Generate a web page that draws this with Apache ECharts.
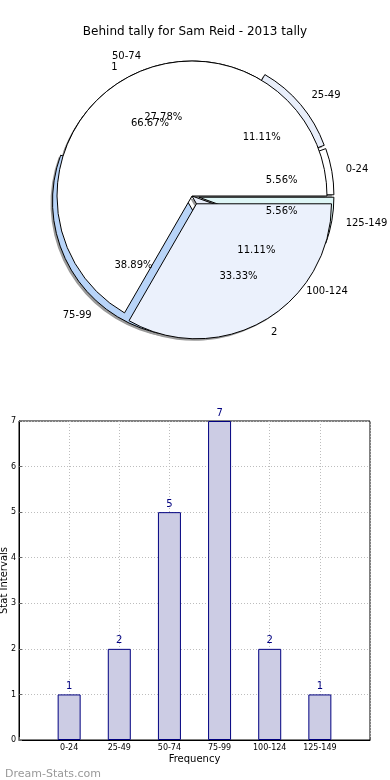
<!DOCTYPE html>
<html>
<head>
<meta charset="utf-8">
<script src="https://cdn.jsdelivr.net/npm/echarts@6/dist/echarts.min.js"></script>
<style>
html,body{margin:0;padding:0;background:#fff;}
#chart{width:390px;height:780px;}
</style>
</head>
<body>
<div id="chart"></div>
<script>
// ---- data ----
const chartTitle = 'Behind tally for Sam Reid - 2013 tally';
const categories = ['0-24', '25-49', '50-74', '75-99', '100-124', '125-149'];
const counts = [1, 2, 5, 7, 2, 1];
const splitNames = ['1', '2'];
const splitValues = [2, 1];
const yAxisName = 'Stat Intervals';
const xAxisName = 'Frequency';
const watermark = 'Dream-Stats.com';

// ---- styling ----
const FONT = 'DejaVu Sans';
const CX = 192, CY = 196, R = 135;
const colorsA = ['#ffffff', '#e8eefa', '#ffffff', '#b8d4f8', '#e8eefa', '#def6f6'];
const colorsB = ['#ffffff', '#ebf1fc'];
const explodeA = [true, true, false, true, false, true];
const explodeB = [false, true];
const offA = 7, offB = 9;

const totalA = counts.reduce((a, b) => a + b, 0);
const totalB = splitValues.reduce((a, b) => a + b, 0);

function pieData(names, values, colors, explode) {
  return names.map((n, i) => ({
    name: n, value: values[i], selected: explode[i],
    itemStyle: { color: colors[i] }
  }));
}
function plainData(names, values, explode) {
  return names.map((n, i) => ({ name: n, value: values[i], selected: explode[i] }));
}
const baseLabel = { fontFamily: FONT, fontSize: 10, color: '#000' };

function mainPie(names, values, colors, explode, off, z) {
  return {
    type: 'pie', z: z, center: [CX, CY], radius: R,
    startAngle: 0, clockwise: false, selectedMode: 'multiple', selectedOffset: off,
    avoidLabelOverlap: false, silent: true,
    labelLayout: { hideOverlap: false },
    data: pieData(names, values, colors, explode),
    itemStyle: { borderColor: '#000', borderWidth: 1 },
    label: Object.assign({ show: true, position: 'outside', formatter: '{b}', distanceToLabelLine: 0, overflow: 'none' }, baseLabel),
    labelLine: { show: false, length: 14, length2: 0 },
    emphasis: { disabled: true }
  };
}
function shadowPie(names, values, explode, off) {
  return {
    type: 'pie', z: 1, center: [CX - 2, CY + 2], radius: R,
    startAngle: 0, clockwise: false, selectedMode: 'multiple', selectedOffset: off,
    silent: true, data: plainData(names, values, explode),
    itemStyle: { color: '#9a9a9a', borderWidth: 0 },
    label: { show: false }, labelLine: { show: false },
    emphasis: { disabled: true }
  };
}
function pctPie(names, values, explode, off, total) {
  return {
    type: 'pie', z: 6, center: [CX, CY], radius: R * 1.2,
    startAngle: 0, clockwise: false, selectedMode: 'multiple', selectedOffset: off,
    avoidLabelOverlap: false, silent: true,
    labelLayout: { hideOverlap: false },
    data: plainData(names, values, explode),
    itemStyle: { color: 'rgba(0,0,0,0)', borderWidth: 0 },
    label: Object.assign({ show: true, position: 'inside',
      formatter: p => (p.value / total * 100).toFixed(2) + '%' }, baseLabel),
    labelLine: { show: false },
    emphasis: { disabled: true }
  };
}
const gridLine = { show: true, lineStyle: { color: '#bdbdbd', type: [1, 2], width: 1 } };

const chart = echarts.init(document.getElementById('chart'), null, { renderer: 'canvas' });
chart.setOption({
  animation: false,
  backgroundColor: '#fff',
  title: [
    { text: chartTitle, left: 'center', top: 21,
      textStyle: { fontFamily: FONT, fontSize: 12, fontWeight: 'normal', color: '#000' } },
    { text: watermark, left: 0, top: 764,
      textStyle: { fontFamily: FONT, fontSize: 11, fontWeight: 'normal', color: '#999' } }
  ],
  grid: { left: 19, right: 20, top: 421, bottom: 40, show: true, borderColor: '#000', borderWidth: 1,
    containLabel: false, outerBoundsMode: 'none' },
  xAxis: {
    type: 'value', min: 0, max: 7, interval: 1,
    name: xAxisName, nameLocation: 'middle', nameGap: 14,
    nameTextStyle: { fontFamily: FONT, fontSize: 10, color: '#000' },
    axisLine: { show: true, lineStyle: { color: '#000' } },
    axisTick: { show: true, inside: true, length: 3, lineStyle: { color: '#666' } },
    axisLabel: { fontFamily: FONT, fontSize: 8, color: '#000', margin: 4,
      formatter: v => categories[v - 1] || '' },
    splitLine: gridLine
  },
  yAxis: {
    type: 'value', min: 0, max: 7, interval: 1,
    name: yAxisName, nameLocation: 'middle', nameGap: 10, nameRotate: 90,
    nameTextStyle: { fontFamily: FONT, fontSize: 10, color: '#000' },
    nameMoveOverlap: false,
    axisLine: { show: true, lineStyle: { color: '#000' } },
    axisTick: { show: true, inside: true, length: 3, lineStyle: { color: '#666' } },
    axisLabel: { fontFamily: FONT, fontSize: 8, color: '#000', margin: 3 },
    splitLine: gridLine
  },
  series: [
    shadowPie(categories, counts, explodeA, offA),
    shadowPie(splitNames, splitValues, explodeB, offB),
    mainPie(categories, counts, colorsA, explodeA, offA, 2),
    mainPie(splitNames, splitValues, colorsB, explodeB, offB, 3),
    pctPie(categories, counts, explodeA, offA, totalA),
    pctPie(splitNames, splitValues, explodeB, offB, totalB),
    {
      type: 'bar', z: 3, barWidth: 23,
      data: counts.map((v, i) => [i + 1, v]),
      itemStyle: { color: '#cccce4', borderColor: '#000080', borderWidth: 1 },
      label: { show: true, position: 'top', distance: 3, fontFamily: FONT, fontSize: 10, color: '#000080',
        formatter: p => String(p.value[1]) },
      emphasis: { disabled: true }
    }
  ]
});
</script>
</body>
</html>
